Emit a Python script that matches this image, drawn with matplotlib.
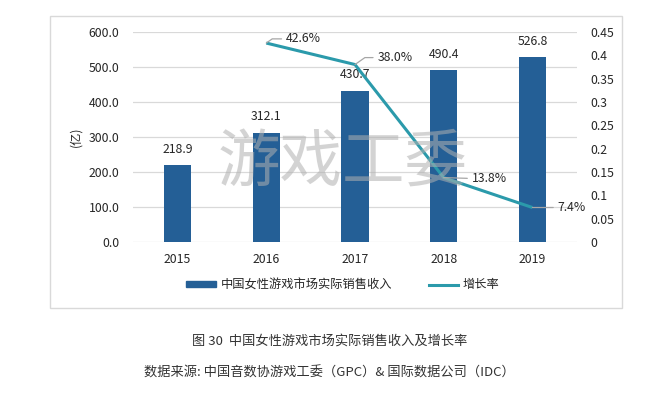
import matplotlib
matplotlib.use("Agg")
import matplotlib.pyplot as plt
from matplotlib.patches import Rectangle
from matplotlib.lines import Line2D

plt.rcParams['font.family'] = ['Noto Sans CJK SC', 'DejaVu Sans']

years = ['2015', '2016', '2017', '2018', '2019']
revenue = [218.9, 312.1, 430.7, 490.4, 526.8]
growth_years = ['2016', '2017', '2018', '2019']
growth = [0.426, 0.380, 0.138, 0.074]
growth_labels = ['42.6%', '38.0%', '13.8%', '7.4%']
left_ticks = [0, 100, 200, 300, 400, 500, 600]
right_ticks = [0, 0.05, 0.1, 0.15, 0.2, 0.25, 0.3, 0.35, 0.4, 0.45]
right_ticklabels = ['0', '0.05', '0.1', '0.15', '0.2', '0.25', '0.3', '0.35', '0.4', '0.45']

bar_color = '#245f96'
line_color = '#2b9aab'
text_color = '#262626'

fig = plt.figure(figsize=(6.66, 3.93), dpi=100)
fig.patch.set_facecolor('white')

# chart frame
fig.patches.append(Rectangle((0.075, 0.216), 0.859, 0.743, transform=fig.transFigure,
                             fill=False, edgecolor='#d9d9d9', linewidth=1.0))

ax = fig.add_axes([0.2, 0.384, 0.666, 0.535])
x = list(range(len(years)))
bars = ax.bar(x, revenue, width=0.31, color=bar_color, zorder=3)
ax.set_ylim(0, 600)
ax.set_xlim(-0.5, len(years) - 0.5)
ax.set_yticks(left_ticks)
ax.set_yticklabels([f'{v:.1f}' for v in left_ticks])
ax.set_xticks(x)
ax.set_xticklabels(years)
ax.tick_params(axis='both', length=0, labelsize=8.8, colors=text_color)
ax.tick_params(axis='y', pad=10)
ax.tick_params(axis='x', pad=8)
for s in ax.spines.values():
    s.set_visible(False)
ax.grid(axis='y', color='#d9d9d9', linewidth=0.9, zorder=0)
ax.set_axisbelow(True)
ax.set_ylabel('(亿)', fontsize=8.8, color=text_color, labelpad=4)

for xi, v in zip(x, revenue):
    ax.annotate(f'{v:.1f}', (xi, v), xytext=(0, 7), textcoords='offset points',
                ha='center', va='bottom', fontsize=8.8, color=text_color, zorder=5)

ax2 = ax.twinx()
ax2.set_ylim(0, 0.45)
ax2.set_yticks(right_ticks)
ax2.set_yticklabels(right_ticklabels)
ax2.tick_params(axis='y', length=0, labelsize=8.8, colors=text_color, pad=10)
for s in ax2.spines.values():
    s.set_visible(False)

gx = [years.index(y) for y in growth_years]
ax2.plot(gx, growth, color=line_color, linewidth=2.2, zorder=4, solid_capstyle='butt')

offsets = [(14, 3), (16, 5), (20, -1), (18, 0)]
conns = ['angle,angleA=0,angleB=35,rad=0', 'angle,angleA=0,angleB=35,rad=0',
         'arc3,rad=0', 'arc3,rad=0']
for xi, v, lab, off, cs in zip(gx, growth, growth_labels, offsets, conns):
    ax2.annotate(lab, (xi, v), xytext=off, textcoords='offset points',
                 ha='left', va='center', fontsize=8.8, color=text_color, zorder=6,
                 arrowprops=dict(arrowstyle='-', color='#a6a6a6', lw=0.9,
                                 shrinkA=1, shrinkB=0, connectionstyle=cs))

# watermark
fig.text(0.514, 0.585, '游戏工委', fontsize=45, color='#b0b0b0', alpha=0.55,
         ha='center', va='center', zorder=10)

handles = [Rectangle((0, 0), 1, 1, color=bar_color),
           Line2D([0], [0], color=line_color, linewidth=2.2)]
leg = fig.legend(handles, ['中国女性游戏市场实际销售收入', '增长率'],
                 loc='center', bbox_to_anchor=(0.515, 0.275), ncol=2, frameon=False,
                 fontsize=8.8, handlelength=2.4, handleheight=0.45, columnspacing=3.0,
                 handletextpad=0.4)
for t in leg.get_texts():
    t.set_color(text_color)

fig.text(0.495, 0.132, '图 30  中国女性游戏市场实际销售收入及增长率', ha='center', va='center',
         fontsize=9.5, color='#333333')
fig.text(0.495, 0.05, '数据来源: 中国音数协游戏工委（GPC）& 国际数据公司（IDC）', ha='center',
         va='center', fontsize=9.5, color='#333333')

fig.savefig('out.png', dpi=100, facecolor='white')
